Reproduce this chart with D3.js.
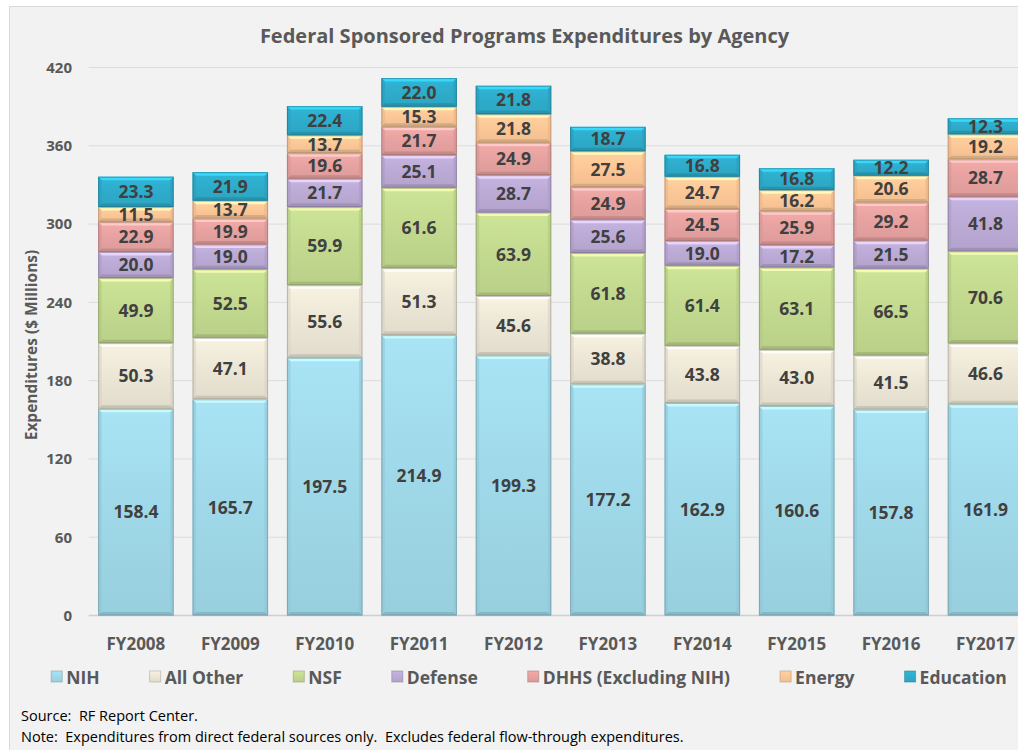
<!DOCTYPE html>
<html>
<head>
<meta charset="utf-8">
<script src="https://cdn.jsdelivr.net/npm/d3@7"></script>
<style>
  body { margin: 0; background: #fff; }
  svg { display: block; font-family: "Open Sans", sans-serif; }
</style>
</head>
<body>
<div id="chart"></div>
<script>
// data ($ millions)
var years = ["FY2008","FY2009","FY2010","FY2011","FY2012","FY2013","FY2014","FY2015","FY2016","FY2017"];
var series = ["NIH","All Other","NSF","Defense","DHHS (Excluding NIH)","Energy","Education"];
var nih       = [158.4,165.7,197.5,214.9,199.3,177.2,162.9,160.6,157.8,161.9];
var allOther  = [50.3,47.1,55.6,51.3,45.6,38.8,43.8,43.0,41.5,46.6];
var nsf       = [49.9,52.5,59.9,61.6,63.9,61.8,61.4,63.1,66.5,70.6];
var defense   = [20.0,19.0,21.7,25.1,28.7,25.6,19.0,17.2,21.5,41.8];
var dhhs      = [22.9,19.9,19.6,21.7,24.9,24.9,24.5,25.9,29.2,28.7];
var energy    = [11.5,13.7,13.7,15.3,21.8,27.5,24.7,16.2,20.6,19.2];
var education = [23.3,21.9,22.4,22.0,21.8,18.7,16.8,16.8,12.2,12.3];
var yTicks = [0,60,120,180,240,300,360,420];

var colors = ["#9fd8e8","#ebe6d5","#c2d98f","#bbaad5","#e6a2a0","#fcc797","#2eaccb"];
var values = [nih, allOther, nsf, defense, dhhs, energy, education];

var table = years.map(function(yr, i) {
  var row = {year: yr};
  series.forEach(function(s, j) { row[s] = values[j][i]; });
  return row;
});

var W = 1018, H = 750;
var svg = d3.select("#chart").append("svg")
  .attr("width", W).attr("height", H);

// chart frame
svg.append("rect")
  .attr("x", 9.5).attr("y", 6.5)
  .attr("width", 1060).attr("height", 780)
  .attr("fill", "#f2f2f2")
  .attr("stroke", "#d9d9d9");

var x = d3.scaleBand().domain(years)
  .range([88.7, 1032.7])
  .paddingInner(0.2).paddingOuter(0.1);
var y = d3.scaleLinear().domain([0, 420]).range([615.5, 67.5]);

// gridlines
svg.append("g").selectAll("line")
  .data(yTicks)
  .enter().append("line")
    .attr("x1", 88.7).attr("x2", W)
    .attr("y1", function(d) { return y(d); })
    .attr("y2", function(d) { return y(d); })
    .attr("stroke", function(d) { return d === 0 ? "#cfcfcf" : "#dcdcdc"; })
    .attr("stroke-width", function(d) { return d === 0 ? 1.5 : 1; });

// y tick labels
svg.append("g").selectAll("text")
  .data(yTicks)
  .enter().append("text")
    .attr("x", 72)
    .attr("y", function(d) { return y(d); })
    .attr("dy", "0.36em")
    .attr("text-anchor", "end")
    .attr("fill", "#595959")
    .style("font-size", "15px")
    .style("font-weight", "bold")
    .text(function(d) { return d; });

// gradients per series
var defs = svg.append("defs");
colors.forEach(function(c, i) {
  var g = defs.append("linearGradient")
    .attr("id", "grad" + i)
    .attr("x1", 0).attr("x2", 0).attr("y1", 0).attr("y2", 1);
  g.append("stop").attr("offset", "0%").attr("stop-color", d3.color(c).brighter(0.15));
  g.append("stop").attr("offset", "50%").attr("stop-color", c);
  g.append("stop").attr("offset", "100%").attr("stop-color", d3.color(c).darker(0.12));
});

var stacked = d3.stack().keys(series)(table);

var layers = svg.append("g").selectAll("g.layer")
  .data(stacked)
  .enter().append("g")
    .attr("class", "layer");

var segs = layers.selectAll("g.seg")
  .data(function(d, i) { return d.map(function(p) { return {p: p, i: i, key: d.key}; }); })
  .enter().append("g")
    .attr("class", "seg");

function geom(d) {
  var x0 = x(d.p.data.year), w = x.bandwidth();
  var y0 = y(d.p[1]), y1 = y(d.p[0]);
  var b = Math.min(3.5, (y1 - y0) / 4);
  return {x0: x0, x1: x0 + w, y0: y0, y1: y1, b: b};
}

// body
segs.append("rect")
  .attr("x", function(d) { return geom(d).x0; })
  .attr("y", function(d) { return geom(d).y0; })
  .attr("width", x.bandwidth())
  .attr("height", function(d) { var g = geom(d); return g.y1 - g.y0; })
  .attr("fill", function(d) { return "url(#grad" + d.i + ")"; });

// bevel: top highlight
segs.append("path")
  .attr("d", function(d) {
    var g = geom(d);
    return "M" + g.x0 + "," + g.y0 + "H" + g.x1 + "L" + (g.x1 - g.b) + "," + (g.y0 + g.b) +
      "H" + (g.x0 + g.b) + "Z";
  })
  .attr("fill", function(d) { return d3.color(colors[d.i]).brighter(0.7); })
  .attr("opacity", 0.85);

// bevel: sides
segs.append("path")
  .attr("d", function(d) {
    var g = geom(d);
    return "M" + g.x0 + "," + g.y0 + "L" + (g.x0 + g.b) + "," + (g.y0 + g.b) +
      "V" + (g.y1 - g.b) + "L" + g.x0 + "," + g.y1 + "Z" +
      "M" + g.x1 + "," + g.y0 + "L" + (g.x1 - g.b) + "," + (g.y0 + g.b) +
      "V" + (g.y1 - g.b) + "L" + g.x1 + "," + g.y1 + "Z";
  })
  .attr("fill", function(d) { return d3.color(colors[d.i]).darker(0.25); })
  .attr("opacity", 0.6);

// bevel: bottom shade
segs.append("path")
  .attr("d", function(d) {
    var g = geom(d);
    return "M" + g.x0 + "," + g.y1 + "H" + g.x1 + "L" + (g.x1 - g.b) + "," + (g.y1 - g.b) +
      "H" + (g.x0 + g.b) + "Z";
  })
  .attr("fill", function(d) { return d3.color(colors[d.i]).darker(0.6); })
  .attr("opacity", 0.7);

// outline
segs.append("rect")
  .attr("x", function(d) { return geom(d).x0 + 0.5; })
  .attr("y", function(d) { return geom(d).y0 + 0.5; })
  .attr("width", x.bandwidth() - 1)
  .attr("height", function(d) { var g = geom(d); return Math.max(0, g.y1 - g.y0 - 1); })
  .attr("fill", "none")
  .attr("stroke", function(d) { return d3.color(colors[d.i]).darker(1.2); })
  .attr("stroke-opacity", 0.55);

// value labels
segs.append("text")
  .attr("x", function(d) { return x(d.p.data.year) + x.bandwidth() / 2; })
  .attr("y", function(d) { return (y(d.p[0]) + y(d.p[1])) / 2; })
  .attr("dy", "0.36em")
  .attr("text-anchor", "middle")
  .attr("fill", "#404040")
  .style("font-size", "17.5px")
  .style("font-weight", "bold")
  .text(function(d) { return d3.format(".1f")(d.p.data[d.key]); });

// x labels
svg.append("g").selectAll("text")
  .data(years)
  .enter().append("text")
    .attr("x", function(d) { return x(d) + x.bandwidth() / 2; })
    .attr("y", 650)
    .attr("text-anchor", "middle")
    .attr("fill", "#595959")
    .style("font-size", "17px")
    .style("font-weight", "bold")
    .text(function(d) { return d; });

// y axis title
svg.append("text")
  .attr("transform", "translate(37,345) rotate(-90)")
  .attr("text-anchor", "middle")
  .attr("fill", "#595959")
  .style("font-size", "15.5px")
  .style("font-weight", "bold")
  .text("Expenditures ($ Millions)");

// title
svg.append("text")
  .attr("x", 524.5).attr("y", 43)
  .attr("text-anchor", "middle")
  .attr("fill", "#595959")
  .style("font-size", "20px")
  .style("font-weight", "bold")
  .text("Federal Sponsored Programs Expenditures by Agency");

// legend
var legend = svg.append("g");
var items = legend.selectAll("g")
  .data(series)
  .enter().append("g");
items.append("rect")
  .attr("width", 11).attr("height", 11)
  .attr("y", 671)
  .attr("fill", function(d, i) { return "url(#grad" + i + ")"; })
  .attr("stroke", function(d, i) { return d3.color(colors[i]).darker(1); })
  .attr("stroke-opacity", 0.5);
items.append("text")
  .attr("x", 15).attr("y", 684)
  .attr("fill", "#595959")
  .style("font-size", "17.5px")
  .style("font-weight", "bold")
  .text(function(d) { return d; });
var pos = 0, gap = 50, offs = [];
items.each(function() {
  offs.push(pos);
  pos += this.getBBox().width + gap;
});
var total = pos - gap, start = 529 - total / 2;
items.attr("transform", function(d, i) { return "translate(" + (start + offs[i]) + ",0)"; });

// footnotes
svg.append("text")
  .attr("x", 21).attr("y", 721)
  .attr("fill", "#000")
  .style("font-size", "14.5px")
  .style("white-space", "pre")
  .text("Source:  RF Report Center.");
svg.append("text")
  .attr("x", 21).attr("y", 742)
  .attr("fill", "#000")
  .style("font-size", "14.5px")
  .style("white-space", "pre")
  .text("Note:  Expenditures from direct federal sources only.  Excludes federal flow-through expenditures.");
</script>
</body>
</html>
